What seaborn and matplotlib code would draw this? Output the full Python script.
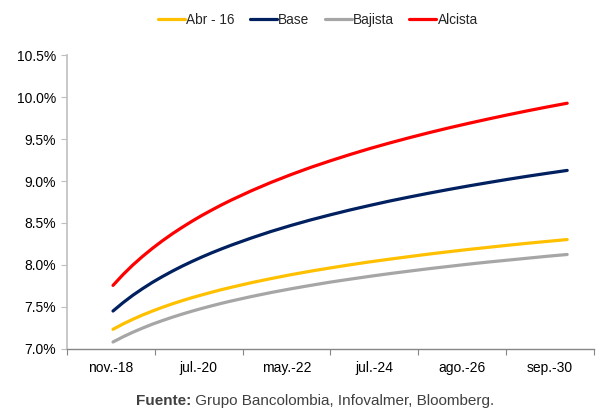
import numpy as np
import pandas as pd
import seaborn as sns
import matplotlib
matplotlib.use("Agg")
import matplotlib.pyplot as plt
from matplotlib.ticker import FixedLocator, FuncFormatter

# Projected rate paths (%); finer steps early on where the curves bend most
periods = [0, 0.5, 1, 1.5, 2, 2.5, 3, 3.5, 4, 4.5, 5, 5.5, 6, 7, 8, 9, 10, 11,
           12, 13, 14, 15, 16, 17, 18, 19, 20, 21, 22, 23]
abr16 = [7.234, 7.297, 7.353, 7.405, 7.452, 7.496, 7.537, 7.575, 7.611, 7.644, 7.676, 7.707,
         7.735, 7.789, 7.838, 7.884, 7.926, 7.965, 8.002, 8.037, 8.069, 8.100, 8.130, 8.158,
         8.185, 8.210, 8.235, 8.259, 8.281, 8.303]
base = [7.452, 7.550, 7.639, 7.719, 7.794, 7.862, 7.926, 7.986, 8.042, 8.095, 8.145, 8.192,
        8.237, 8.321, 8.399, 8.470, 8.536, 8.597, 8.655, 8.709, 8.761, 8.809, 8.855, 8.899,
        8.941, 8.981, 9.020, 9.057, 9.092, 9.126]
bajista = [7.083, 7.144, 7.199, 7.249, 7.296, 7.338, 7.378, 7.415, 7.450, 7.483, 7.514, 7.544,
           7.572, 7.624, 7.672, 7.716, 7.757, 7.796, 7.831, 7.865, 7.897, 7.927, 7.956, 7.983,
           8.010, 8.035, 8.058, 8.081, 8.104, 8.125]
alcista = [7.757, 7.884, 7.999, 8.103, 8.199, 8.288, 8.371, 8.448, 8.521, 8.590, 8.654, 8.716,
           8.774, 8.883, 8.983, 9.075, 9.161, 9.240, 9.315, 9.386, 9.452, 9.515, 9.575, 9.632,
           9.686, 9.738, 9.788, 9.836, 9.882, 9.926]

series_names = ["Abr - 16", "Base", "Bajista", "Alcista"]
series_colors = ["#FFC000", "#002060", "#A6A6A6", "#FF0000"]
x_labels = ["nov.-18", "jul.-20", "may.-22", "jul.-24", "ago.-26", "sep.-30"]
y_ticks = [7.0, 7.5, 8.0, 8.5, 9.0, 9.5, 10.0, 10.5]

df = pd.DataFrame({
    "periodo": periods * 4,
    "tasa": abr16 + base + bajista + alcista,
    "escenario": sum([[n] * len(periods) for n in series_names], []),
})

sns.set_theme(style="white")
plt.rcParams["font.family"] = ["Liberation Sans", "DejaVu Sans"]
FS_TICK = 10.0
FS_LEG = 9.8
FS_SRC = 11.0

fig = plt.figure(figsize=(6.02, 4.13), dpi=100)
ax = fig.add_axes([0.1113, 0.155, 0.8754, 0.7118])

sns.lineplot(data=df, x="periodo", y="tasa", hue="escenario",
             hue_order=series_names, palette=series_colors,
             linewidth=2.3, ax=ax, legend=True, solid_capstyle="round")

# category-style axis: tick marks between groups, labels centred in each group
x_left, group_w = -2.330, 4.448
ax.set_xlim(x_left, x_left + 6 * group_w)
ax.set_ylim(7.0, 10.5)
ax.xaxis.set_major_locator(FixedLocator([x_left + i * group_w for i in range(7)]))
ax.xaxis.set_major_formatter(FuncFormatter(lambda v, p: ""))
ax.xaxis.set_minor_locator(FixedLocator([x_left + (i + 0.5) * group_w for i in range(6)]))
ax.set_xticklabels(x_labels, minor=True)
ax.tick_params(axis="x", which="major", direction="out", length=4, width=0.8,
               color="#868686", bottom=True)
ax.tick_params(axis="x", which="minor", length=0, pad=9, labelsize=FS_TICK,
               labelcolor="black", bottom=True)
ax.yaxis.set_major_locator(FixedLocator(y_ticks))
ax.yaxis.set_major_formatter(FuncFormatter(lambda v, p: f"{v:.1f}%"))
ax.tick_params(axis="y", direction="out", length=4, width=0.8, color="#BFBFBF",
               left=True, labelsize=FS_TICK, labelcolor="black", pad=4)

for s in ["top", "right"]:
    ax.spines[s].set_visible(False)
ax.spines["left"].set_color("#BFBFBF")
ax.spines["left"].set_linewidth(1.2)
ax.spines["bottom"].set_color("#868686")
ax.spines["bottom"].set_linewidth(1.0)
ax.set_xlabel("")
ax.set_ylabel("")
ax.grid(False)

handles, labels = ax.get_legend_handles_labels()
ax.legend(handles, labels, loc="center", bbox_to_anchor=(0.528, 0.952),
          bbox_transform=fig.transFigure, ncol=4, frameon=False,
          fontsize=FS_LEG, handlelength=2.0, handletextpad=0.1,
          columnspacing=1.1, borderaxespad=0)

# source note: bold lead-in followed by regular text, centred as a whole
t1 = fig.text(0.5, 0.02, "Fuente:", fontsize=FS_SRC, fontweight="bold",
              color="#404040", ha="left", va="baseline")
t2 = fig.text(0.5, 0.02, " Grupo Bancolombia, Infovalmer, Bloomberg.",
              fontsize=FS_SRC, color="#404040", ha="left", va="baseline")
fig.canvas.draw()
r = fig.canvas.get_renderer()
w1 = t1.get_window_extent(r).width / fig.bbox.width
w2 = t2.get_window_extent(r).width / fig.bbox.width
start = 0.523 - (w1 + w2) / 2
t1.set_x(start)
t2.set_x(start + w1)

fig.savefig("out.png", dpi=100)
